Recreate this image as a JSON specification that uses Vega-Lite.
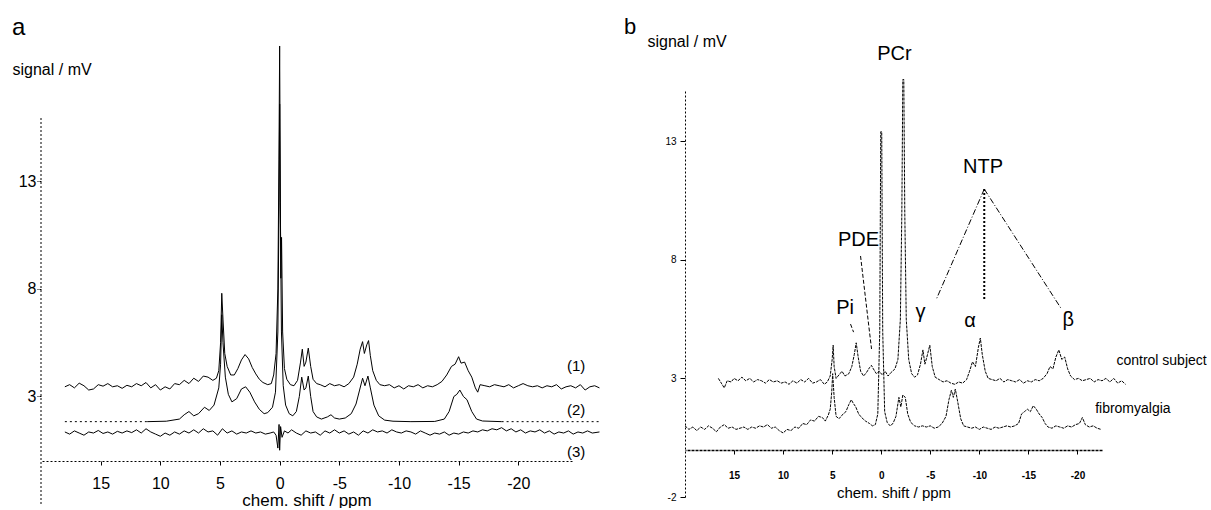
{
  "$schema": "https://vega.github.io/schema/vega-lite/v6.json",
  "padding": {"left": 12, "top": 15, "right": 0, "bottom": 0},
  "spacing": 113,
  "bounds": "flush",
  "config": {
    "view": {"stroke": null},
    "font": "Liberation Sans",
    "axis": {"domainColor": "black", "tickColor": "black", "labelColor": "black", "titleColor": "black", "grid": false, "titleFontWeight": "normal"},
    "title": {"fontWeight": "normal", "color": "black"}
  },
  "datasets": {
    "a1": [
      {"ppm":18.0,"mV":3.45},{"ppm":17.6,"mV":3.55},{"ppm":17.2,"mV":3.40},{"ppm":16.8,"mV":3.62},{"ppm":16.4,"mV":3.50},{"ppm":16.0,"mV":3.30},{"ppm":15.6,"mV":3.35},{"ppm":15.2,"mV":3.55},{"ppm":14.8,"mV":3.48},{"ppm":14.4,"mV":3.60},{"ppm":14.0,"mV":3.45},{"ppm":13.6,"mV":3.50},{"ppm":13.2,"mV":3.38},{"ppm":12.8,"mV":3.52},{"ppm":12.4,"mV":3.45},{"ppm":12.0,"mV":3.60},{"ppm":11.6,"mV":3.50},{"ppm":11.2,"mV":3.65},{"ppm":10.8,"mV":3.40},{"ppm":10.4,"mV":3.55},{"ppm":10.0,"mV":3.30},{"ppm":9.6,"mV":3.45},{"ppm":9.2,"mV":3.35},{"ppm":8.8,"mV":3.60},{"ppm":8.4,"mV":3.55},{"ppm":8.0,"mV":3.75},{"ppm":7.6,"mV":3.60},{"ppm":7.2,"mV":3.85},{"ppm":6.8,"mV":3.70},{"ppm":6.4,"mV":3.95},{"ppm":6.0,"mV":3.90},{"ppm":5.6,"mV":3.75},{"ppm":5.3,"mV":3.85},{"ppm":5.1,"mV":4.2},{"ppm":4.95,"mV":5.5},{"ppm":4.85,"mV":7.8},{"ppm":4.75,"mV":6.6},{"ppm":4.6,"mV":5.0},{"ppm":4.4,"mV":4.4},{"ppm":4.1,"mV":4.0},{"ppm":3.8,"mV":4.0},{"ppm":3.5,"mV":4.3},{"ppm":3.2,"mV":4.7},{"ppm":2.9,"mV":4.95},{"ppm":2.6,"mV":4.75},{"ppm":2.3,"mV":4.35},{"ppm":2.0,"mV":4.05},{"ppm":1.7,"mV":3.8},{"ppm":1.4,"mV":3.65},{"ppm":1.0,"mV":3.55},{"ppm":0.7,"mV":3.6},{"ppm":0.5,"mV":4.0},{"ppm":0.3,"mV":5.0},{"ppm":0.15,"mV":8.0},{"ppm":0.06,"mV":14.0},{"ppm":0.0,"mV":19.3},{"ppm":-0.06,"mV":12.0},{"ppm":-0.1,"mV":8.5},{"ppm":-0.16,"mV":10.4},{"ppm":-0.25,"mV":6.0},{"ppm":-0.4,"mV":4.3},{"ppm":-0.6,"mV":3.8},{"ppm":-0.9,"mV":3.55},{"ppm":-1.2,"mV":3.5},{"ppm":-1.5,"mV":3.75},{"ppm":-1.75,"mV":4.6},{"ppm":-1.9,"mV":5.2},{"ppm":-2.05,"mV":4.4},{"ppm":-2.2,"mV":4.6},{"ppm":-2.4,"mV":5.25},{"ppm":-2.6,"mV":4.4},{"ppm":-2.8,"mV":3.8},{"ppm":-3.1,"mV":3.6},{"ppm":-3.4,"mV":3.55},{"ppm":-3.8,"mV":3.45},{"ppm":-4.2,"mV":3.6},{"ppm":-4.6,"mV":3.5},{"ppm":-5.0,"mV":3.55},{"ppm":-5.4,"mV":3.45},{"ppm":-5.8,"mV":3.6},{"ppm":-6.2,"mV":3.9},{"ppm":-6.5,"mV":4.5},{"ppm":-6.75,"mV":5.2},{"ppm":-6.95,"mV":5.55},{"ppm":-7.1,"mV":5.0},{"ppm":-7.3,"mV":5.4},{"ppm":-7.45,"mV":5.6},{"ppm":-7.6,"mV":4.9},{"ppm":-7.8,"mV":4.2},{"ppm":-8.1,"mV":3.75},{"ppm":-8.4,"mV":3.55},{"ppm":-8.8,"mV":3.5},{"ppm":-9.2,"mV":3.55},{"ppm":-9.6,"mV":3.4},{"ppm":-10.0,"mV":3.5},{"ppm":-10.4,"mV":3.35},{"ppm":-10.8,"mV":3.5},{"ppm":-11.2,"mV":3.45},{"ppm":-11.6,"mV":3.55},{"ppm":-12.0,"mV":3.4},{"ppm":-12.4,"mV":3.5},{"ppm":-12.8,"mV":3.45},{"ppm":-13.2,"mV":3.55},{"ppm":-13.6,"mV":3.7},{"ppm":-14.0,"mV":4.0},{"ppm":-14.4,"mV":4.4},{"ppm":-14.7,"mV":4.5},{"ppm":-15.0,"mV":4.85},{"ppm":-15.2,"mV":4.55},{"ppm":-15.5,"mV":4.6},{"ppm":-15.8,"mV":4.2},{"ppm":-16.1,"mV":3.9},{"ppm":-16.4,"mV":3.4},{"ppm":-16.6,"mV":3.2},{"ppm":-16.8,"mV":3.55},{"ppm":-17.2,"mV":3.5},{"ppm":-17.6,"mV":3.45},{"ppm":-18.0,"mV":3.55},{"ppm":-18.4,"mV":3.5},{"ppm":-18.8,"mV":3.45},{"ppm":-19.2,"mV":3.55},{"ppm":-19.6,"mV":3.4},{"ppm":-20.0,"mV":3.5},{"ppm":-20.4,"mV":3.6},{"ppm":-20.8,"mV":3.5},{"ppm":-21.2,"mV":3.45},{"ppm":-21.6,"mV":3.5},{"ppm":-22.0,"mV":3.4},{"ppm":-22.4,"mV":3.5},{"ppm":-22.8,"mV":3.45},{"ppm":-23.2,"mV":3.55},{"ppm":-23.6,"mV":3.35},{"ppm":-24.0,"mV":3.45},{"ppm":-24.4,"mV":3.5},{"ppm":-24.8,"mV":3.4},{"ppm":-25.2,"mV":3.55},{"ppm":-25.6,"mV":3.3},{"ppm":-26.0,"mV":3.45},{"ppm":-26.4,"mV":3.5},{"ppm":-26.8,"mV":3.4}
    ],
    "a2": [
      {"ppm":11.1,"mV":1.83},{"ppm":9.5,"mV":1.85},{"ppm":8.4,"mV":1.95},{"ppm":8.0,"mV":2.15},{"ppm":7.6,"mV":2.3},{"ppm":7.2,"mV":2.1},{"ppm":6.8,"mV":2.2},{"ppm":6.3,"mV":2.5},{"ppm":5.9,"mV":2.35},{"ppm":5.5,"mV":2.6},{"ppm":5.1,"mV":3.4},{"ppm":4.95,"mV":4.5},{"ppm":4.85,"mV":6.8},{"ppm":4.75,"mV":5.5},{"ppm":4.55,"mV":3.9},{"ppm":4.3,"mV":3.1},{"ppm":4.0,"mV":2.75},{"ppm":3.6,"mV":2.9},{"ppm":3.2,"mV":3.35},{"ppm":2.85,"mV":3.45},{"ppm":2.5,"mV":3.2},{"ppm":2.1,"mV":2.75},{"ppm":1.7,"mV":2.4},{"ppm":1.3,"mV":2.2},{"ppm":1.0,"mV":2.25},{"ppm":0.6,"mV":2.5},{"ppm":0.35,"mV":3.2},{"ppm":0.15,"mV":6.0},{"ppm":0.05,"mV":12.0},{"ppm":0.0,"mV":16.6},{"ppm":-0.05,"mV":12.0},{"ppm":-0.15,"mV":6.0},{"ppm":-0.3,"mV":3.5},{"ppm":-0.5,"mV":2.6},{"ppm":-0.8,"mV":2.2},{"ppm":-1.1,"mV":2.1},{"ppm":-1.4,"mV":2.3},{"ppm":-1.65,"mV":3.0},{"ppm":-1.85,"mV":3.9},{"ppm":-2.05,"mV":3.3},{"ppm":-2.2,"mV":3.4},{"ppm":-2.4,"mV":3.95},{"ppm":-2.6,"mV":3.0},{"ppm":-2.8,"mV":2.3},{"ppm":-3.1,"mV":2.05},{"ppm":-3.5,"mV":1.95},{"ppm":-4.0,"mV":2.05},{"ppm":-4.3,"mV":2.15},{"ppm":-4.6,"mV":2.0},{"ppm":-5.0,"mV":1.95},{"ppm":-5.5,"mV":2.0},{"ppm":-6.0,"mV":2.2},{"ppm":-6.4,"mV":2.65},{"ppm":-6.7,"mV":3.3},{"ppm":-6.95,"mV":3.85},{"ppm":-7.15,"mV":3.5},{"ppm":-7.4,"mV":3.95},{"ppm":-7.6,"mV":3.4},{"ppm":-7.9,"mV":2.6},{"ppm":-8.3,"mV":2.1},{"ppm":-8.8,"mV":1.9},{"ppm":-9.5,"mV":1.85},{"ppm":-11.0,"mV":1.83},{"ppm":-13.0,"mV":1.84},{"ppm":-13.8,"mV":1.95},{"ppm":-14.2,"mV":2.3},{"ppm":-14.6,"mV":3.0},{"ppm":-14.85,"mV":3.1},{"ppm":-15.1,"mV":3.3},{"ppm":-15.4,"mV":3.0},{"ppm":-15.7,"mV":2.85},{"ppm":-16.1,"mV":2.3},{"ppm":-16.5,"mV":1.95},{"ppm":-17.0,"mV":1.86},{"ppm":-18.6,"mV":1.83}
    ],
    "a2dot": [
      {"part":"left","ppm":18.0,"mV":1.83},{"part":"left","ppm":11.1,"mV":1.83},{"part":"right","ppm":-18.6,"mV":1.83},{"part":"right","ppm":-26.8,"mV":1.83}
    ],
    "a3": [
      {"ppm":18.0,"mV":1.35},{"ppm":17.6,"mV":1.25},{"ppm":17.2,"mV":1.4},{"ppm":16.8,"mV":1.3},{"ppm":16.4,"mV":1.2},{"ppm":16.0,"mV":1.35},{"ppm":15.6,"mV":1.3},{"ppm":15.2,"mV":1.42},{"ppm":14.8,"mV":1.28},{"ppm":14.4,"mV":1.35},{"ppm":14.0,"mV":1.25},{"ppm":13.6,"mV":1.38},{"ppm":13.2,"mV":1.3},{"ppm":12.8,"mV":1.4},{"ppm":12.4,"mV":1.32},{"ppm":12.0,"mV":1.45},{"ppm":11.6,"mV":1.3},{"ppm":11.2,"mV":1.5},{"ppm":10.8,"mV":1.35},{"ppm":10.4,"mV":1.25},{"ppm":10.0,"mV":1.15},{"ppm":9.6,"mV":1.3},{"ppm":9.2,"mV":1.2},{"ppm":8.8,"mV":1.35},{"ppm":8.4,"mV":1.25},{"ppm":8.0,"mV":1.4},{"ppm":7.6,"mV":1.3},{"ppm":7.2,"mV":1.45},{"ppm":6.8,"mV":1.3},{"ppm":6.4,"mV":1.5},{"ppm":6.0,"mV":1.35},{"ppm":5.6,"mV":1.4},{"ppm":5.2,"mV":1.2},{"ppm":4.8,"mV":1.5},{"ppm":4.4,"mV":1.3},{"ppm":4.0,"mV":1.4},{"ppm":3.6,"mV":1.25},{"ppm":3.2,"mV":1.35},{"ppm":2.8,"mV":1.3},{"ppm":2.4,"mV":1.4},{"ppm":2.0,"mV":1.3},{"ppm":1.6,"mV":1.35},{"ppm":1.2,"mV":1.25},{"ppm":0.8,"mV":1.3},{"ppm":0.5,"mV":1.35},{"ppm":0.3,"mV":1.2},{"ppm":0.15,"mV":0.6},{"ppm":0.05,"mV":1.7},{"ppm":0.0,"mV":0.5},{"ppm":-0.08,"mV":1.6},{"ppm":-0.2,"mV":1.1},{"ppm":-0.4,"mV":1.4},{"ppm":-0.7,"mV":1.3},{"ppm":-1.0,"mV":1.45},{"ppm":-1.4,"mV":1.3},{"ppm":-1.8,"mV":1.2},{"ppm":-2.2,"mV":1.4},{"ppm":-2.6,"mV":1.3},{"ppm":-3.0,"mV":1.35},{"ppm":-3.4,"mV":1.2},{"ppm":-3.8,"mV":1.4},{"ppm":-4.2,"mV":1.3},{"ppm":-4.6,"mV":1.45},{"ppm":-5.0,"mV":1.3},{"ppm":-5.4,"mV":1.4},{"ppm":-5.8,"mV":1.25},{"ppm":-6.2,"mV":1.35},{"ppm":-6.6,"mV":1.2},{"ppm":-7.0,"mV":1.4},{"ppm":-7.4,"mV":1.3},{"ppm":-7.8,"mV":1.45},{"ppm":-8.2,"mV":1.35},{"ppm":-8.6,"mV":1.4},{"ppm":-9.0,"mV":1.3},{"ppm":-9.4,"mV":1.45},{"ppm":-9.8,"mV":1.35},{"ppm":-10.2,"mV":1.3},{"ppm":-10.6,"mV":1.4},{"ppm":-11.0,"mV":1.35},{"ppm":-11.4,"mV":1.25},{"ppm":-11.8,"mV":1.4},{"ppm":-12.2,"mV":1.3},{"ppm":-12.6,"mV":1.2},{"ppm":-13.0,"mV":1.3},{"ppm":-13.4,"mV":1.25},{"ppm":-13.8,"mV":1.35},{"ppm":-14.2,"mV":1.2},{"ppm":-14.6,"mV":1.3},{"ppm":-15.0,"mV":1.25},{"ppm":-15.4,"mV":1.35},{"ppm":-15.8,"mV":1.3},{"ppm":-16.2,"mV":1.4},{"ppm":-16.6,"mV":1.35},{"ppm":-17.0,"mV":1.45},{"ppm":-17.4,"mV":1.4},{"ppm":-17.8,"mV":1.5},{"ppm":-18.2,"mV":1.45},{"ppm":-18.6,"mV":1.55},{"ppm":-19.0,"mV":1.4},{"ppm":-19.4,"mV":1.5},{"ppm":-19.8,"mV":1.35},{"ppm":-20.2,"mV":1.45},{"ppm":-20.6,"mV":1.3},{"ppm":-21.0,"mV":1.4},{"ppm":-21.4,"mV":1.35},{"ppm":-21.8,"mV":1.45},{"ppm":-22.2,"mV":1.3},{"ppm":-22.6,"mV":1.4},{"ppm":-23.0,"mV":1.25},{"ppm":-23.4,"mV":1.35},{"ppm":-23.8,"mV":1.3},{"ppm":-24.2,"mV":1.4},{"ppm":-24.6,"mV":1.25},{"ppm":-25.0,"mV":1.35},{"ppm":-25.4,"mV":1.3},{"ppm":-25.8,"mV":1.4},{"ppm":-26.2,"mV":1.3},{"ppm":-26.8,"mV":1.35}
    ],
    "bc": [
      {"ppm":16.6,"mV":3.0},{"ppm":16.3,"mV":2.8},{"ppm":16.0,"mV":2.6},{"ppm":15.7,"mV":2.9},{"ppm":15.3,"mV":2.85},{"ppm":15.0,"mV":3.0},{"ppm":14.6,"mV":2.9},{"ppm":14.2,"mV":3.05},{"ppm":13.8,"mV":2.9},{"ppm":13.4,"mV":3.0},{"ppm":13.0,"mV":2.85},{"ppm":12.6,"mV":2.95},{"ppm":12.2,"mV":2.9},{"ppm":11.8,"mV":2.8},{"ppm":11.4,"mV":2.95},{"ppm":11.0,"mV":2.85},{"ppm":10.6,"mV":2.9},{"ppm":10.2,"mV":2.8},{"ppm":9.8,"mV":2.85},{"ppm":9.4,"mV":2.75},{"ppm":9.0,"mV":2.9},{"ppm":8.6,"mV":2.8},{"ppm":8.2,"mV":2.95},{"ppm":7.8,"mV":2.85},{"ppm":7.4,"mV":3.0},{"ppm":7.0,"mV":2.8},{"ppm":6.6,"mV":2.85},{"ppm":6.2,"mV":2.95},{"ppm":5.8,"mV":2.75},{"ppm":5.5,"mV":2.85},{"ppm":5.2,"mV":3.1},{"ppm":5.0,"mV":3.8},{"ppm":4.9,"mV":4.4},{"ppm":4.8,"mV":3.5},{"ppm":4.6,"mV":3.0},{"ppm":4.3,"mV":3.15},{"ppm":4.0,"mV":3.3},{"ppm":3.7,"mV":3.1},{"ppm":3.3,"mV":3.2},{"ppm":3.0,"mV":3.5},{"ppm":2.75,"mV":4.0},{"ppm":2.55,"mV":4.5},{"ppm":2.35,"mV":3.9},{"ppm":2.1,"mV":3.3},{"ppm":1.8,"mV":3.1},{"ppm":1.5,"mV":3.25},{"ppm":1.2,"mV":3.45},{"ppm":1.0,"mV":3.55},{"ppm":0.8,"mV":3.4},{"ppm":0.5,"mV":3.2},{"ppm":0.2,"mV":3.3},{"ppm":-0.1,"mV":3.15},{"ppm":-0.4,"mV":3.3},{"ppm":-0.7,"mV":3.1},{"ppm":-1.0,"mV":3.25},{"ppm":-1.4,"mV":3.4},{"ppm":-1.7,"mV":3.8},{"ppm":-1.95,"mV":5.5},{"ppm":-2.1,"mV":10.0},{"ppm":-2.2,"mV":15.6},{"ppm":-2.3,"mV":15.6},{"ppm":-2.4,"mV":10.0},{"ppm":-2.55,"mV":5.5},{"ppm":-2.8,"mV":3.8},{"ppm":-3.1,"mV":3.2},{"ppm":-3.4,"mV":3.05},{"ppm":-3.7,"mV":3.15},{"ppm":-4.0,"mV":3.6},{"ppm":-4.25,"mV":4.2},{"ppm":-4.45,"mV":3.6},{"ppm":-4.65,"mV":3.9},{"ppm":-4.95,"mV":4.4},{"ppm":-5.2,"mV":3.5},{"ppm":-5.5,"mV":3.05},{"ppm":-5.9,"mV":2.95},{"ppm":-6.3,"mV":2.85},{"ppm":-6.7,"mV":2.9},{"ppm":-7.1,"mV":2.8},{"ppm":-7.5,"mV":2.75},{"ppm":-7.9,"mV":2.85},{"ppm":-8.3,"mV":2.8},{"ppm":-8.7,"mV":2.95},{"ppm":-9.0,"mV":3.3},{"ppm":-9.3,"mV":3.7},{"ppm":-9.6,"mV":3.5},{"ppm":-9.9,"mV":4.3},{"ppm":-10.1,"mV":4.7},{"ppm":-10.3,"mV":4.0},{"ppm":-10.6,"mV":3.3},{"ppm":-10.9,"mV":3.0},{"ppm":-11.3,"mV":2.95},{"ppm":-11.7,"mV":2.9},{"ppm":-12.1,"mV":3.0},{"ppm":-12.5,"mV":2.85},{"ppm":-12.9,"mV":2.95},{"ppm":-13.3,"mV":2.9},{"ppm":-13.7,"mV":2.85},{"ppm":-14.1,"mV":2.95},{"ppm":-14.5,"mV":2.8},{"ppm":-14.9,"mV":2.9},{"ppm":-15.3,"mV":2.85},{"ppm":-15.7,"mV":2.95},{"ppm":-16.1,"mV":2.9},{"ppm":-16.5,"mV":3.0},{"ppm":-16.9,"mV":3.2},{"ppm":-17.2,"mV":3.5},{"ppm":-17.5,"mV":3.4},{"ppm":-17.8,"mV":3.9},{"ppm":-18.1,"mV":4.2},{"ppm":-18.4,"mV":3.8},{"ppm":-18.7,"mV":3.9},{"ppm":-19.0,"mV":3.4},{"ppm":-19.3,"mV":3.1},{"ppm":-19.7,"mV":2.95},{"ppm":-20.1,"mV":3.0},{"ppm":-20.5,"mV":2.9},{"ppm":-20.9,"mV":2.95},{"ppm":-21.3,"mV":3.0},{"ppm":-21.7,"mV":2.85},{"ppm":-22.1,"mV":2.95},{"ppm":-22.5,"mV":2.9},{"ppm":-22.9,"mV":3.0},{"ppm":-23.3,"mV":2.85},{"ppm":-23.7,"mV":3.0},{"ppm":-24.1,"mV":2.8},{"ppm":-24.5,"mV":2.9},{"ppm":-24.9,"mV":2.75}
    ],
    "bf": [
      {"ppm":20.0,"mV":1.0},{"ppm":19.6,"mV":0.85},{"ppm":19.2,"mV":0.95},{"ppm":18.8,"mV":0.8},{"ppm":18.4,"mV":0.95},{"ppm":18.0,"mV":0.85},{"ppm":17.6,"mV":1.0},{"ppm":17.2,"mV":0.9},{"ppm":16.8,"mV":0.75},{"ppm":16.4,"mV":0.95},{"ppm":16.0,"mV":1.05},{"ppm":15.6,"mV":0.9},{"ppm":15.2,"mV":0.95},{"ppm":14.8,"mV":0.85},{"ppm":14.4,"mV":0.9},{"ppm":14.0,"mV":0.95},{"ppm":13.6,"mV":0.85},{"ppm":13.2,"mV":0.95},{"ppm":12.8,"mV":0.9},{"ppm":12.4,"mV":1.0},{"ppm":12.0,"mV":0.95},{"ppm":11.6,"mV":1.05},{"ppm":11.2,"mV":0.9},{"ppm":10.8,"mV":0.95},{"ppm":10.4,"mV":0.8},{"ppm":10.0,"mV":0.7},{"ppm":9.6,"mV":0.85},{"ppm":9.2,"mV":0.8},{"ppm":8.8,"mV":0.95},{"ppm":8.4,"mV":0.9},{"ppm":8.0,"mV":1.1},{"ppm":7.6,"mV":1.05},{"ppm":7.2,"mV":1.25},{"ppm":6.8,"mV":1.2},{"ppm":6.4,"mV":1.4},{"ppm":6.0,"mV":1.35},{"ppm":5.7,"mV":1.2},{"ppm":5.4,"mV":1.45},{"ppm":5.2,"mV":1.7},{"ppm":5.05,"mV":2.4},{"ppm":4.95,"mV":3.2},{"ppm":4.8,"mV":2.2},{"ppm":4.6,"mV":1.4},{"ppm":4.3,"mV":1.3},{"ppm":4.0,"mV":1.45},{"ppm":3.6,"mV":1.6},{"ppm":3.3,"mV":1.9},{"ppm":3.05,"mV":2.1},{"ppm":2.85,"mV":1.95},{"ppm":2.6,"mV":1.8},{"ppm":2.3,"mV":1.5},{"ppm":2.0,"mV":1.35},{"ppm":1.6,"mV":1.2},{"ppm":1.2,"mV":1.1},{"ppm":0.9,"mV":1.0},{"ppm":0.6,"mV":1.05},{"ppm":0.35,"mV":1.5},{"ppm":0.15,"mV":5.0},{"ppm":0.05,"mV":13.4},{"ppm":-0.05,"mV":13.4},{"ppm":-0.15,"mV":5.0},{"ppm":-0.35,"mV":1.6},{"ppm":-0.6,"mV":1.15},{"ppm":-0.9,"mV":1.0},{"ppm":-1.2,"mV":1.1},{"ppm":-1.5,"mV":1.4},{"ppm":-1.8,"mV":2.2},{"ppm":-2.0,"mV":1.8},{"ppm":-2.2,"mV":2.3},{"ppm":-2.45,"mV":2.2},{"ppm":-2.7,"mV":1.5},{"ppm":-3.0,"mV":1.15},{"ppm":-3.4,"mV":1.0},{"ppm":-3.8,"mV":0.95},{"ppm":-4.2,"mV":1.0},{"ppm":-4.6,"mV":0.95},{"ppm":-5.0,"mV":1.0},{"ppm":-5.4,"mV":0.9},{"ppm":-5.8,"mV":0.95},{"ppm":-6.2,"mV":1.1},{"ppm":-6.6,"mV":1.4},{"ppm":-6.9,"mV":2.1},{"ppm":-7.15,"mV":2.5},{"ppm":-7.35,"mV":2.2},{"ppm":-7.55,"mV":2.55},{"ppm":-7.8,"mV":2.0},{"ppm":-8.1,"mV":1.3},{"ppm":-8.4,"mV":1.0},{"ppm":-8.8,"mV":0.95},{"ppm":-9.2,"mV":0.9},{"ppm":-9.6,"mV":0.95},{"ppm":-10.0,"mV":0.85},{"ppm":-10.4,"mV":0.95},{"ppm":-10.8,"mV":0.9},{"ppm":-11.2,"mV":0.85},{"ppm":-11.6,"mV":0.95},{"ppm":-12.0,"mV":0.9},{"ppm":-12.4,"mV":0.95},{"ppm":-12.8,"mV":1.0},{"ppm":-13.2,"mV":0.95},{"ppm":-13.6,"mV":1.0},{"ppm":-14.0,"mV":1.1},{"ppm":-14.3,"mV":1.5},{"ppm":-14.6,"mV":1.6},{"ppm":-14.9,"mV":1.7},{"ppm":-15.2,"mV":1.6},{"ppm":-15.5,"mV":1.85},{"ppm":-15.8,"mV":1.7},{"ppm":-16.1,"mV":1.5},{"ppm":-16.4,"mV":1.35},{"ppm":-16.7,"mV":1.1},{"ppm":-17.0,"mV":0.95},{"ppm":-17.4,"mV":0.9},{"ppm":-17.8,"mV":1.0},{"ppm":-18.2,"mV":0.95},{"ppm":-18.6,"mV":0.9},{"ppm":-19.0,"mV":1.0},{"ppm":-19.4,"mV":0.95},{"ppm":-19.8,"mV":1.05},{"ppm":-20.2,"mV":1.1},{"ppm":-20.5,"mV":1.35},{"ppm":-20.8,"mV":1.05},{"ppm":-21.2,"mV":0.95},{"ppm":-21.6,"mV":1.0},{"ppm":-22.0,"mV":0.9},{"ppm":-22.4,"mV":0.85}
    ]
  },
  "hconcat": [
    {
      "width": 531,
      "height": 415,
      "title": {"text": "a", "anchor": "start", "frame": "group", "dx": -29, "fontSize": 24, "font": "Liberation Sans"},
      "encoding": {
        "x": {"field": "ppm", "type": "quantitative", "scale": {"domain": [-24.5, 20], "reverse": true, "nice": false, "zero": false},
          "axis": {"values": [15, 10, 5, 0, -5, -10, -15, -20], "labelExpr": "datum.value < 0 ? '-' + abs(datum.value) : '' + datum.value", "offset": -43, "title": "chem. shift / ppm", "titleFontSize": 17, "titlePadding": 1, "labelFontSize": 16, "labelPadding": 10, "tickSize": 4, "domainDash": [2, 2], "labelFont": "Liberation Sans", "titleFont": "Liberation Sans"}},
        "y": {"field": "mV", "type": "quantitative", "scale": {"domain": [-2, 17.3], "nice": false, "zero": false},
          "axis": {"values": [3, 8, 13], "domain": false, "tickSize": 4, "tickDash": [2, 1], "labelPadding": 1, "labelFontSize": 16, "labelFont": "Liberation Sans", "title": "signal / mV", "titleFont": "Liberation Sans", "titleFontSize": 16, "titleAngle": 0, "titleAlign": "left", "titleBaseline": "middle", "titleX": -29, "titleY": -20}}
      },
      "layer": [
        {"data": {"values": [{"ppm": 20, "mV": -2, "mV2": 16}]}, "mark": {"type": "rule", "strokeDash": [2, 2], "color": "black", "strokeWidth": 1}, "encoding": {"y2": {"field": "mV2"}}},
        {"data": {"name": "a1"}, "mark": {"type": "line", "color": "black", "strokeWidth": 1, "clip": false}},
        {"data": {"name": "a2"}, "mark": {"type": "line", "color": "black", "strokeWidth": 1, "clip": false}},
        {"data": {"name": "a2dot"}, "mark": {"type": "line", "color": "black", "strokeWidth": 1, "strokeDash": [2, 3], "clip": false}, "encoding": {"detail": {"field": "part"}}},
        {"data": {"name": "a3"}, "mark": {"type": "line", "color": "black", "strokeWidth": 1, "clip": false}},
        {"data": {"values": [{"ppm": -24.85, "mV": 4.4, "label": "(1)"}, {"ppm": -24.85, "mV": 2.35, "label": "(2)"}, {"ppm": -24.85, "mV": 0.44, "label": "(3)"}]},
          "mark": {"type": "text", "fontSize": 15, "color": "black", "align": "center", "baseline": "middle", "clip": false, "font": "Liberation Sans"},
          "encoding": {"text": {"field": "label"}}}
      ]
    },
    {
      "width": 417,
      "height": 408,
      "title": {"text": "b", "anchor": "start", "frame": "group", "dx": -61, "dy": 10, "fontSize": 22, "font": "Liberation Sans"},
      "encoding": {
        "x": {"field": "ppm", "type": "quantitative", "scale": {"domain": [-22.5, 20], "reverse": true, "nice": false, "zero": false},
          "axis": {"values": [15, 10, 5, 0, -5, -10, -15, -20], "labelExpr": "datum.value < 0 ? '-' + abs(datum.value) : '' + datum.value", "offset": -47, "title": "chem. shift / ppm", "titleFontSize": 15, "titlePadding": 5, "labelFontSize": 10, "labelFontWeight": "bold", "labelPadding": 16, "tickSize": 4, "domainDash": [3, 1], "domainWidth": 1.5, "labelFont": "Liberation Sans", "titleFont": "Liberation Sans"}},
        "y": {"field": "mV", "type": "quantitative", "scale": {"domain": [-2, 15.2], "nice": false, "zero": false},
          "axis": {"values": [13, 8, 3, -2], "labelExpr": "datum.value < 0 ? '-' + abs(datum.value) : '' + datum.value", "domainDash": [2, 2], "tickSize": 5, "labelPadding": 4, "labelFontSize": 10, "labelFont": "Liberation Sans", "title": "signal / mV", "titleFont": "Liberation Sans", "titleFontSize": 16, "titleAngle": 0, "titleAlign": "left", "titleBaseline": "middle", "titleX": -38, "titleY": -48}}
      },
      "layer": [
        {"data": {"name": "bc"}, "mark": {"type": "line", "color": "black", "strokeWidth": 1, "strokeDash": [3, 1], "clip": false}},
        {"data": {"name": "bf"}, "mark": {"type": "line", "color": "black", "strokeWidth": 1, "strokeDash": [3, 1], "clip": false}},
        {"data": {"values": [{"ppm": 2.11, "mV": 8.16, "ppm2": 0.99, "mV2": 4.24}, {"ppm": 3.13, "mV": 5.29, "ppm2": 2.82, "mV2": 4.95}]},
          "mark": {"type": "rule", "color": "black", "strokeWidth": 1, "strokeDash": [4, 2], "clip": false},
          "encoding": {"x2": {"field": "ppm2"}, "y2": {"field": "mV2"}}},
        {"data": {"values": [{"ppm": -10.5, "mV": 10.98, "ppm2": -5.63, "mV2": 6.35}, {"ppm": -10.5, "mV": 10.98, "ppm2": -18.36, "mV2": 5.93}]},
          "mark": {"type": "rule", "color": "black", "strokeWidth": 1, "strokeDash": [6, 2, 1, 2], "clip": false},
          "encoding": {"x2": {"field": "ppm2"}, "y2": {"field": "mV2"}}},
        {"data": {"values": [{"ppm": -10.5, "mV": 10.98, "ppm2": -10.5, "mV2": 6.28}]},
          "mark": {"type": "rule", "color": "black", "strokeWidth": 2, "strokeDash": [2, 2], "clip": false},
          "encoding": {"x2": {"field": "ppm2"}, "y2": {"field": "mV2"}}},
        {"data": {"values": [
            {"ppm": -1.35, "mV": 16.67, "label": "PCr"},
            {"ppm": -10.37, "mV": 11.93, "label": "NTP"},
            {"ppm": 2.32, "mV": 8.83, "label": "PDE"},
            {"ppm": 3.69, "mV": 5.97, "label": "Pi"},
            {"ppm": -4.0, "mV": 5.8, "label": "γ"},
            {"ppm": -9.04, "mV": 5.42, "label": "α"},
            {"ppm": -19.07, "mV": 5.46, "label": "β"}
          ]},
          "mark": {"type": "text", "fontSize": 20, "color": "black", "align": "center", "baseline": "middle", "clip": false, "font": "Liberation Sans"},
          "encoding": {"text": {"field": "label"}}},
        {"data": {"values": [
            {"ppm": -23.97, "mV": 3.75, "label": "control subject"},
            {"ppm": -21.8, "mV": 1.69, "label": "fibromyalgia"}
          ]},
          "mark": {"type": "text", "fontSize": 14, "color": "black", "align": "left", "baseline": "middle", "clip": false, "font": "Liberation Sans"},
          "encoding": {"text": {"field": "label"}}}
      ]
    }
  ]
}
